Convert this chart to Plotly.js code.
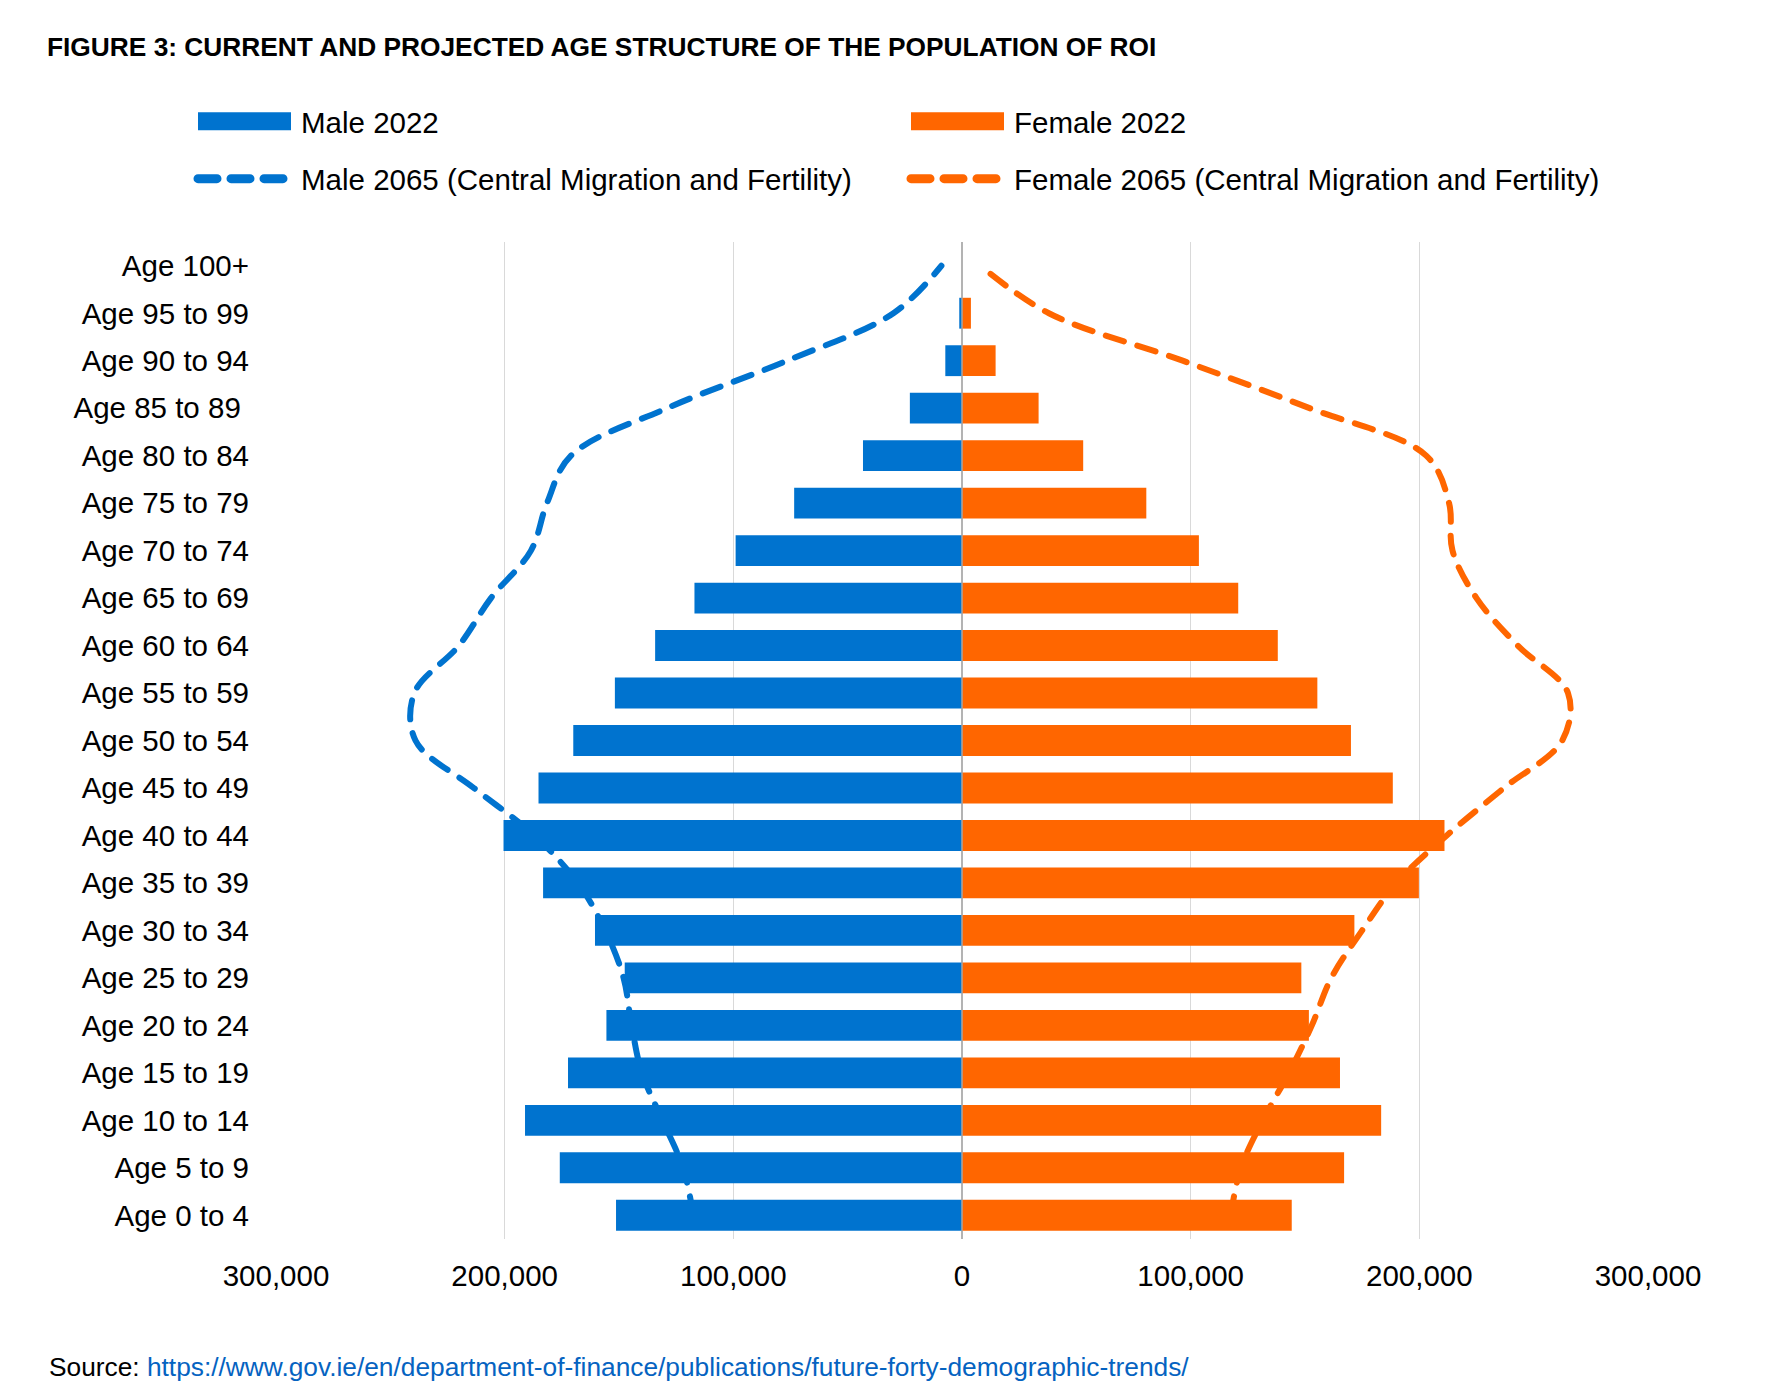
<!DOCTYPE html>
<html>
<head>
<meta charset="utf-8">
<script src="https://cdn.plot.ly/plotly-3.0.1.min.js"></script>
<style>
  html, body { margin: 0; padding: 0; background: #ffffff; }
  #chart { width: 1765px; height: 1381px; }
  /* rounded dash ends on the projected profiles, in the plot and the legend */
  #chart .scatterlayer path.js-line,
  #chart .legendlines path.js-line { stroke-linecap: round; }
</style>
</head>
<body>
<div id="chart"></div>
<script>
// Age bands, youngest at the bottom of the pyramid
const ageGroups = [
  "Age 0 to 4", "Age 5 to 9", "Age 10 to 14", "Age 15 to 19", "Age 20 to 24",
  "Age 25 to 29", "Age 30 to 34", "Age 35 to 39", "Age 40 to 44", "Age 45 to 49",
  "Age 50 to 54", "Age 55 to 59", "Age 60 to 64", "Age 65 to 69", "Age 70 to 74",
  "Age 75 to 79", "Age 80 to 84", "Age 85 to 89\u00a0", "Age 90 to 94", "Age 95 to 99",
  "Age 100+"
];

// Population counts (persons)
const male2022 = [151300, 175900, 191100, 172300, 155500, 147500, 160500, 183200, 200500, 185200,
                  170000, 151800, 134200, 117000, 99000, 73400, 43300, 22800, 7300, 1200, 0];
const female2022 = [144200, 167100, 183300, 165300, 151700, 148400, 171600, 199800, 211000, 188400,
                    170100, 155400, 138100, 120800, 103600, 80600, 53000, 33500, 14700, 3900, 0];
const male2065 = [117500, 122000, 131000, 140000, 144500, 148000, 156000, 168000, 187000, 213500,
                  239000, 239500, 220000, 206000, 188500, 181500, 171000, 129000, 76500, 30000, 9000];
const female2065 = [117500, 122000, 131500, 143000, 153000, 161500, 175000, 190000, 212000, 237000,
                    262500, 265000, 243000, 225000, 214500, 213000, 203000, 152000, 96500, 38000, 8000];

const seriesNames = ["Male 2022", "Female 2022",
  "Male 2065 (Central Migration and Fertility)", "Female 2065 (Central Migration and Fertility)"];

const xTickVals = [-300000, -200000, -100000, 0, 100000, 200000, 300000];
const xTickText = ["300,000", "200,000", "100,000", "0", "100,000", "200,000", "300,000"];

const BLUE = "#0073CF";
const ORANGE = "#FF6600";
const FONT = "Liberation Sans, Arial, sans-serif";

const W = 1765, H = 1381;
const SWATCH = 98;
const SWATCH_PATH = "M5,-9H98V9H5Z";
const DASH = "19px,14px";
const neg = v => -v;

const traces = [
  // projected profiles sit underneath the bars
  {
    type: "scatter", mode: "lines", name: seriesNames[2], legend: "legend3",
    x: male2065.map(neg), y: ageGroups, xaxis: "x", yaxis: "y",
    line: { color: BLUE, width: 6, dash: DASH, shape: "spline", smoothing: 1 },
    hoverinfo: "skip"
  },
  {
    type: "scatter", mode: "lines", name: seriesNames[3], legend: "legend4",
    x: female2065, y: ageGroups, xaxis: "x", yaxis: "y",
    line: { color: ORANGE, width: 6, dash: DASH, shape: "spline", smoothing: 1 },
    hoverinfo: "skip"
  },
  {
    type: "bar", orientation: "h", name: seriesNames[0], legend: "legend",
    x: male2022.map(neg), y: ageGroups, xaxis: "x", yaxis: "y2",
    marker: { color: BLUE }, hoverinfo: "skip"
  },
  {
    type: "bar", orientation: "h", name: seriesNames[1], legend: "legend2",
    x: female2022, y: ageGroups, xaxis: "x", yaxis: "y2",
    marker: { color: ORANGE }, hoverinfo: "skip"
  }
];

function legendAt(px, py) {
  return {
    visible: true,
    xref: "container", yref: "container",
    x: px / W, xanchor: "left",
    y: 1 - py / H, yanchor: "middle",
    orientation: "h",
    itemwidth: SWATCH,
    bgcolor: "rgba(0,0,0,0)",
    font: { family: FONT, size: 29.5, color: "#000000" }
  };
}

const layout = {
  width: W, height: H,
  paper_bgcolor: "#ffffff", plot_bgcolor: "#ffffff",
  font: { family: FONT, color: "#000000", size: 29.5 },
  margin: { l: 276, r: 117, t: 242, b: 142, pad: 0 },
  showlegend: true,
  barmode: "overlay",
  bargap: 0.35,
  title: {
    text: "<b>FIGURE 3: CURRENT AND PROJECTED AGE STRUCTURE OF THE POPULATION OF ROI</b>",
    xref: "container", yref: "container",
    x: 47 / W, xanchor: "left",
    y: 1 - 47 / H, yanchor: "middle",
    font: { family: FONT, size: 26.3, color: "#000000" }
  },
  xaxis: {
    range: [-300000, 300000],
    tickvals: xTickVals, ticktext: xTickText,
    showgrid: true, gridcolor: "#D9D9D9", gridwidth: 1.5,
    zeroline: false, showline: false, ticks: "",
    ticklabelstandoff: 16,
    tickfont: { family: FONT, size: 29.5, color: "#000000" },
    fixedrange: true
  },
  yaxis: {
    type: "category", categoryarray: ageGroups, categoryorder: "array",
    range: [-0.5, ageGroups.length - 0.5],
    showgrid: false, zeroline: false, showline: false, ticks: "",
    ticklabelstandoff: 26,
    tickfont: { family: FONT, size: 29.5, color: "#000000" },
    fixedrange: true
  },
  yaxis2: {
    type: "category", categoryarray: ageGroups, categoryorder: "array",
    range: [-0.5, ageGroups.length - 0.5],
    overlaying: "y", side: "left", visible: false,
    showgrid: false, zeroline: false, fixedrange: true
  },
  legend: legendAt(193, 121.6),
  legend2: legendAt(906, 121.6),
  legend3: legendAt(193, 179),
  legend4: legendAt(906, 179),
  shapes: [
    { type: "line", xref: "x", yref: "paper", x0: 0, x1: 0, y0: 0, y1: 1,
      line: { color: "#A6A6A6", width: 1.5 }, layer: "above" }
  ],
  annotations: [
    {
      xref: "paper", yref: "paper",
      x: (47 - 276) / 1372, xanchor: "left",
      y: (1239 - 1366.6) / 997, yanchor: "middle",
      showarrow: false,
      text: "Source: <span style=\"color:#0563C1\">https://www.gov.ie/en/department-of-finance/publications/future-forty-demographic-trends/</span>",
      font: { family: FONT, size: 26.3, color: "#000000" }
    }
  ]
};

const gd = document.getElementById("chart");

// Legend icons: wide blocks for the bar series, bolder rounded dashes for the profiles
function styleLegendIcons() {
  gd.querySelectorAll("g.legendpoints").forEach(g => {
    const item = g.parentNode;
    const d = item && item.__data__;
    const trace = d && d[0] && d[0].trace;
    if (!trace || trace.type !== "bar") return;
    g.querySelectorAll("path").forEach(p => {
      if (p.getAttribute("d") !== SWATCH_PATH) {
        p.setAttribute("d", SWATCH_PATH);
        p.setAttribute("transform", "translate(0,0)");
      }
    });
  });
  gd.querySelectorAll("g.legendlines path.js-line").forEach(p => {
    if (p.style.strokeWidth !== "9px") p.style.strokeWidth = "9px";
  });
  gd.querySelectorAll("path.js-line").forEach(p => {
    if (p.style.strokeDasharray && p.style.strokeDasharray !== "none" &&
        p.style.strokeLinecap !== "round") {
      p.style.strokeLinecap = "round";
    }
  });
}

Plotly.newPlot(gd, traces, layout, { staticPlot: true, displayModeBar: false }).then(() => {
  styleLegendIcons();
  new MutationObserver(styleLegendIcons).observe(gd, { subtree: true, childList: true, attributes: true });
});
</script>
</body>
</html>
